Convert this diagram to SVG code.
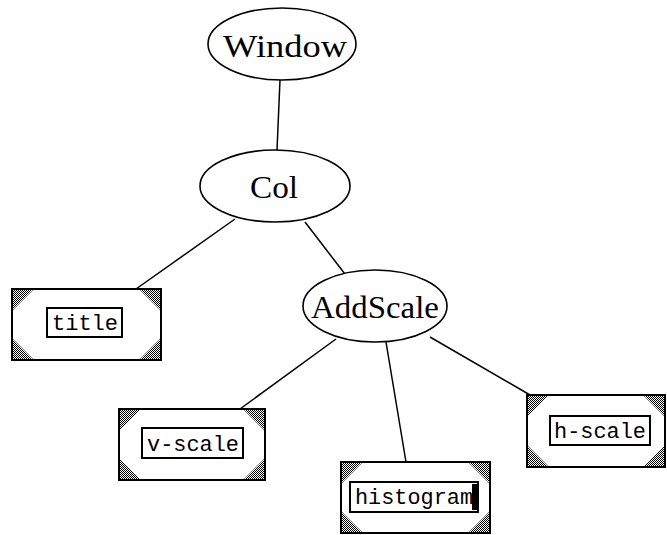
<svg xmlns="http://www.w3.org/2000/svg" width="667" height="535" viewBox="0 0 667 535">
<style>
.ell{fill:#fff;stroke:#000;stroke-width:1.6}
.lab{font-family:"Liberation Serif",serif;font-size:31px;text-anchor:middle;fill:#000}
.box{fill:#fff;stroke:#000;stroke-width:2}
.inner{fill:#fff;stroke:#000;stroke-width:2}
.mono{font-family:"Liberation Mono",monospace;font-size:22px;text-anchor:middle;fill:#000}
.tri{fill:url(#dither)}
.edge{stroke:#000;stroke-width:1.5;fill:none}
</style>
<defs>
<pattern id="dither" width="2" height="2" patternUnits="userSpaceOnUse">
<rect width="2" height="2" fill="#fff"/>
<rect width="1" height="1" fill="#000"/>
<rect x="1" y="1" width="1" height="1" fill="#000"/>
</pattern>
</defs>
<g id="connectors">
<line class="edge" x1="280" y1="80" x2="277" y2="150"/>
<line class="edge" x1="235" y1="219" x2="136" y2="289"/>
<line class="edge" x1="305" y1="222" x2="348" y2="278"/>
<line class="edge" x1="336" y1="339" x2="240" y2="409"/>
<line class="edge" x1="386" y1="342" x2="406" y2="462"/>
<line class="edge" x1="430" y1="337" x2="530" y2="395"/>
</g>
<g id="window">
<ellipse class="ell" cx="282" cy="44" rx="74" ry="36"/>
<text class="lab" x="285" y="57" textLength="124" lengthAdjust="spacingAndGlyphs">Window</text>
</g>
<g id="col">
<ellipse class="ell" cx="275" cy="186" rx="75" ry="36"/>
<text class="lab" x="274" y="198" textLength="48" lengthAdjust="spacingAndGlyphs">Col</text>
</g>
<g id="addscale">
<ellipse class="ell" cx="375" cy="306" rx="72" ry="36"/>
<text class="lab" x="375" y="318" textLength="128" lengthAdjust="spacingAndGlyphs">AddScale</text>
</g>
<g id="title">
<rect class="box" x="12" y="289" width="149" height="71"/>
<path class="tri" d="M13,290h20l-20,20z M160,290h-20l20,20z M13,359h20l-20,-20z M160,359h-20l20,-20z"/>
<rect class="inner" x="47" y="308" width="75" height="29"/>
<text class="mono" x="85" y="330" textLength="66" lengthAdjust="spacingAndGlyphs">title</text>
</g>
<g id="v-scale">
<rect class="box" x="119" y="409" width="146" height="71"/>
<path class="tri" d="M120,410h20l-20,20z M264,410h-20l20,20z M120,479h20l-20,-20z M264,479h-20l20,-20z"/>
<rect class="inner" x="142" y="428" width="101" height="30"/>
<text class="mono" x="193" y="451" textLength="92" lengthAdjust="spacingAndGlyphs">v-scale</text>
</g>
<g id="histogram">
<rect class="box" x="341" y="462" width="149" height="71"/>
<path class="tri" d="M342,463h20l-20,20z M489,463h-20l20,20z M342,532h20l-20,-20z M489,532h-20l20,-20z"/>
<rect class="inner" x="350" y="482" width="128" height="30"/>
<text class="mono" x="414" y="504" textLength="118" lengthAdjust="spacingAndGlyphs">histogram</text>
<rect x="472" y="484" width="5" height="26" fill="#000"/>
</g>
<g id="h-scale">
<rect class="box" x="527" y="395" width="138" height="72"/>
<path class="tri" d="M528,396h20l-20,20z M664,396h-20l20,20z M528,466h20l-20,-20z M664,466h-20l20,-20z"/>
<rect class="inner" x="550" y="416" width="100" height="29"/>
<text class="mono" x="600" y="438" textLength="92" lengthAdjust="spacingAndGlyphs">h-scale</text>
</g>
</svg>
